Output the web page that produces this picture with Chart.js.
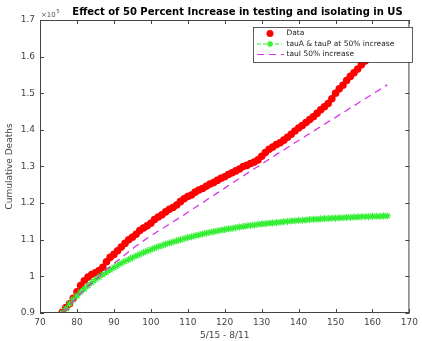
<!DOCTYPE html>
<html>
<head>
<meta charset="utf-8">
<script src="https://cdn.jsdelivr.net/npm/chart.js@4/dist/chart.umd.min.js"></script>
<style>
html,body{margin:0;padding:0;background:#fff;}
canvas{display:block;}
</style>
</head>
<body>
<canvas id="c" width="422" height="341"></canvas>
<script>
// ---- data (values in units of 10^5 deaths) ----
const days = [];
for (let d = 76; d <= 164; d++) days.push(d);

const dataDeaths = [
0.902,0.915,0.925,0.940,0.958,0.975,0.988,0.998,1.005,1.010,
1.016,1.025,1.040,1.052,1.060,1.070,1.080,1.090,1.100,1.107,
1.115,1.125,1.132,1.138,1.145,1.155,1.162,1.168,1.176,1.183,
1.188,1.195,1.204,1.212,1.218,1.222,1.230,1.236,1.240,1.246,
1.252,1.256,1.262,1.268,1.272,1.278,1.283,1.288,1.293,1.300,
1.303,1.308,1.312,1.318,1.328,1.338,1.347,1.353,1.360,1.365,
1.372,1.380,1.388,1.397,1.405,1.412,1.420,1.428,1.436,1.445,
1.455,1.463,1.472,1.485,1.500,1.512,1.522,1.535,1.546,1.556,
1.566,1.578,1.588,1.598,1.608,1.618,1.628,1.637,1.645
];

const tauATauP = [
0.900,0.912,0.925,0.937,0.947,0.957,0.966,0.975,0.983,0.991,
0.998,1.005,1.011,1.018,1.024,1.030,1.036,1.041,1.046,1.051,
1.056,1.060,1.065,1.069,1.073,1.077,1.081,1.084,1.088,1.091,
1.094,1.097,1.100,1.103,1.106,1.108,1.111,1.113,1.116,1.118,
1.120,1.122,1.124,1.126,1.128,1.130,1.131,1.133,1.135,1.136,
1.138,1.139,1.140,1.142,1.143,1.144,1.145,1.146,1.147,1.148,
1.149,1.150,1.151,1.152,1.153,1.153,1.154,1.155,1.156,1.156,
1.157,1.158,1.158,1.159,1.159,1.160,1.160,1.161,1.161,1.162,
1.162,1.163,1.163,1.163,1.164,1.164,1.164,1.165,1.165
];

const tauI = [
0.900,0.911,0.922,0.933,0.943,0.953,0.963,0.973,0.982,0.991,
1.000,1.009,1.018,1.027,1.035,1.043,1.051,1.059,1.067,1.075,
1.083,1.090,1.097,1.104,1.110,1.117,1.124,1.130,1.136,1.142,
1.149,1.155,1.162,1.168,1.175,1.182,1.188,1.195,1.201,1.208,
1.215,1.221,1.228,1.234,1.241,1.248,1.254,1.261,1.267,1.274,
1.281,1.287,1.294,1.300,1.307,1.313,1.320,1.326,1.333,1.339,
1.345,1.352,1.358,1.365,1.371,1.377,1.384,1.390,1.396,1.403,
1.409,1.415,1.422,1.428,1.434,1.441,1.447,1.453,1.460,1.466,
1.472,1.479,1.485,1.491,1.498,1.504,1.510,1.517,1.523
];

const seriesNames = ['Data', 'tauA & tauP at 50% increase', 'tauI 50% increase'];
const titleText = 'Effect of 50 Percent Increase in testing and isolating in US';
const xTitle = '5/15 - 8/11';
const yTitle = 'Cumulative Deaths';

const FONT = "'DejaVu Sans', 'Liberation Sans', sans-serif";
const AXIS = '#444444';
const RED = '#ff0000', GREEN = '#33ee33', MAG = '#d633e6';

const toXY = arr => arr.map((v, i) => ({x: days[i], y: v}));

const decorPlugin = {
  id: 'decor',
  afterDraw(chart) {
    const ctx = chart.ctx;
    const a = chart.chartArea;
    const xs = chart.scales.x, ys = chart.scales.y;
    ctx.save();
    // title
    ctx.fillStyle = '#000';
    ctx.font = 'bold 10px ' + FONT;
    ctx.textAlign = 'center';
    ctx.textBaseline = 'middle';
    ctx.fillText(titleText, 237.5, 12);
    // box
    ctx.strokeStyle = AXIS;
    ctx.lineWidth = 1;
    ctx.strokeRect(a.left + 0.5, a.top + 0.5, a.right - a.left - 1, a.bottom - a.top - 1);
    // inward ticks
    const tl = 4;
    ctx.beginPath();
    xs.ticks.forEach(t => {
      const px = Math.round(xs.getPixelForValue(t.value)) + 0.5;
      ctx.moveTo(px, a.bottom); ctx.lineTo(px, a.bottom - tl);
      ctx.moveTo(px, a.top); ctx.lineTo(px, a.top + tl);
    });
    ys.ticks.forEach(t => {
      const py = Math.round(ys.getPixelForValue(t.value)) + 0.5;
      ctx.moveTo(a.left, py); ctx.lineTo(a.left + tl, py);
      ctx.moveTo(a.right, py); ctx.lineTo(a.right - tl, py);
    });
    ctx.stroke();
    // exponent
    ctx.fillStyle = '#555';
    ctx.textAlign = 'left';
    ctx.textBaseline = 'alphabetic';
    ctx.font = '7px ' + FONT;
    ctx.fillText('\u00d710', a.left + 1, a.top - 3);
    const w = ctx.measureText('\u00d710').width;
    ctx.font = '5.5px ' + FONT;
    ctx.fillText('5', a.left + 1 + w + 0.5, a.top - 7);
    // legend
    const lx = 253, ly = 27, lw = 159, lh = 35;
    ctx.fillStyle = '#fff';
    ctx.fillRect(lx, ly, lw, lh);
    ctx.strokeStyle = '#333';
    ctx.lineWidth = 0.8;
    ctx.strokeRect(lx + 0.5, ly + 0.5, lw, lh);
    const rows = [33.5, 44, 54.5];
    const sx0 = 257, sx1 = 282, sxm = 270;
    ctx.fillStyle = RED;
    ctx.beginPath(); ctx.arc(sxm, rows[0], 3.5, 0, Math.PI * 2); ctx.fill();
    ctx.strokeStyle = GREEN; ctx.lineWidth = 1;
    ctx.setLineDash([4, 2]);
    ctx.beginPath(); ctx.moveTo(sx0, rows[1]); ctx.lineTo(sx1, rows[1]); ctx.stroke();
    ctx.setLineDash([]);
    ctx.lineWidth = 1.2;
    ctx.beginPath();
    const r = 3.2;
    ctx.moveTo(sxm - r, rows[1]); ctx.lineTo(sxm + r, rows[1]);
    ctx.moveTo(sxm, rows[1] - r); ctx.lineTo(sxm, rows[1] + r);
    ctx.moveTo(sxm - r * 0.7, rows[1] - r * 0.7); ctx.lineTo(sxm + r * 0.7, rows[1] + r * 0.7);
    ctx.moveTo(sxm - r * 0.7, rows[1] + r * 0.7); ctx.lineTo(sxm + r * 0.7, rows[1] - r * 0.7);
    ctx.stroke();
    ctx.strokeStyle = MAG; ctx.lineWidth = 1.2;
    ctx.setLineDash([7, 5]);
    ctx.beginPath(); ctx.moveTo(sx0, rows[2]); ctx.lineTo(sx1 + 2, rows[2]); ctx.stroke();
    ctx.setLineDash([]);
    ctx.fillStyle = '#222';
    ctx.font = '7.5px ' + FONT;
    ctx.textBaseline = 'middle';
    seriesNames.forEach((s, i) => ctx.fillText(s, 286.5, rows[i]));
    ctx.restore();
  }
};

new Chart(document.getElementById('c'), {
  type: 'line',
  data: {
    datasets: [
      {
        label: seriesNames[0], data: toXY(dataDeaths), showLine: false,
        pointRadius: 3.8, pointBackgroundColor: RED, pointBorderColor: RED,
        pointBorderWidth: 0, order: 3
      },
      {
        label: seriesNames[1], data: toXY(tauATauP), borderColor: GREEN,
        borderWidth: 1, borderDash: [4, 2], pointStyle: 'star', pointRadius: 3.5,
        pointBorderColor: GREEN, pointBorderWidth: 1.2, tension: 0, order: 2
      },
      {
        label: seriesNames[2], data: toXY(tauI), borderColor: MAG,
        borderWidth: 1.3, borderDash: [7, 5], pointRadius: 0, tension: 0, order: 1
      }
    ]
  },
  options: {
    responsive: false,
    animation: false,
    devicePixelRatio: 1,
    layout: { padding: { top: 20, right: 9, left: 0, bottom: 0 } },
    plugins: { legend: { display: false }, title: { display: false }, tooltip: { enabled: false } },
    scales: {
      x: {
        type: 'linear', min: 70, max: 170,
        ticks: { stepSize: 10, color: AXIS, font: { family: FONT, size: 9 }, padding: 4, maxRotation: 0 },
        grid: { drawOnChartArea: false, drawTicks: false },
        border: { display: false },
        title: { display: true, text: xTitle, color: AXIS, font: { family: FONT, size: 9 }, padding: { top: 1, bottom: 0 } },
        afterFit(s) { s.height = 28; }
      },
      y: {
        type: 'linear', min: 0.9, max: 1.7,
        ticks: { stepSize: 0.1, color: AXIS, font: { family: FONT, size: 9 }, padding: 5,
                 callback: v => String(Number(v.toFixed(1))) },
        grid: { drawOnChartArea: false, drawTicks: false },
        border: { display: false },
        title: { display: true, text: yTitle, color: AXIS, font: { family: FONT, size: 9 }, padding: { top: 4, bottom: 0 } },
        afterFit(s) { s.width = 40; }
      }
    }
  },
  plugins: [decorPlugin]
});
</script>
</body>
</html>
